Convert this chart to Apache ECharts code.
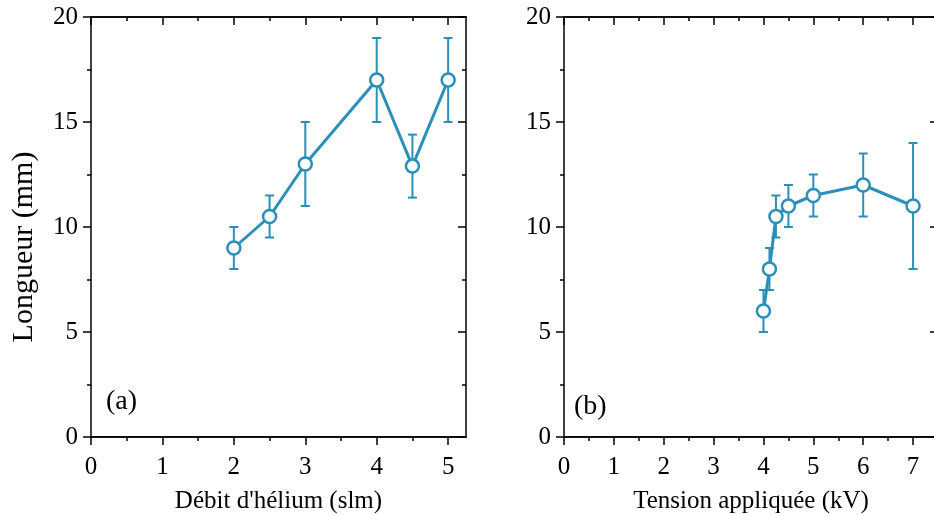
<!DOCTYPE html>
<html><head><meta charset="utf-8">
<script src="https://cdn.jsdelivr.net/npm/echarts@6/dist/echarts.min.js"></script>
<style>html,body{margin:0;padding:0;background:#fff}#c{width:934px;height:515px}</style>
</head><body><div id="c"></div>
<script>
// ---- data ----
const flowX = [2, 2.5, 3, 4, 4.5, 5];            // Débit d'hélium (slm)
const flowLen = [9, 10.5, 13, 17, 12.9, 17];     // Longueur (mm)
const flowErr = [1, 1, 2, 2, 1.5, 2];
const voltX = [4, 4.12, 4.25, 4.5, 5, 6, 7];     // Tension appliquée (kV)
const voltLen = [6, 8, 10.5, 11, 11.5, 12, 11];  // Longueur (mm)
const voltErr = [1, 1, 1, 1, 1, 1.5, 3];
const flowMajor = [0, 1, 2, 3, 4, 5];
const flowMinor = [0.5, 1.5, 2.5, 3.5, 4.5];
const voltMajor = [0, 1, 2, 3, 4, 5, 6, 7];
const voltMinor = [0.5, 1.5, 2.5, 3.5, 4.5, 5.5, 6.5];
const panelLabels = ['(a)', '(b)'];
const xTitles = ["Débit d'hélium (slm)", 'Tension appliquée (kV)'];
const yTitle = 'Longueur (mm)';

const C = '#2a8fba';
const FONT = '"Liberation Serif","Times New Roman",serif';
const chart = echarts.init(document.getElementById('c'));

function xAxes(grid, max, major, minor, title) {
  const base = { type: 'value', gridIndex: grid, min: 0, max: max, interval: 1,
    splitLine: { show: false }, axisLine: { onZero: false, lineStyle: { color: '#000', width: 1.5 } } };
  return [
    Object.assign({}, base, { position: 'bottom', name: title, nameLocation: 'middle', nameGap: 52,
      nameTextStyle: { fontFamily: FONT, fontSize: 25, color: '#000' },
      axisTick: { show: true, inside: false, length: 8, lineStyle: { width: 1.5, color: '#000' }, customValues: major },
      axisLabel: { show: true, margin: 18, fontFamily: FONT, fontSize: 25, color: '#000', customValues: major } }),
    Object.assign({}, base, { position: 'bottom',
      axisTick: { show: true, inside: false, length: 4, lineStyle: { width: 1.5, color: '#000' }, customValues: minor },
      axisLabel: { show: false } }),
    Object.assign({}, base, { position: 'top',
      axisTick: { show: true, inside: true, length: 8, lineStyle: { width: 1.5, color: '#000' }, customValues: major },
      axisLabel: { show: false } }),
    Object.assign({}, base, { position: 'top',
      axisTick: { show: true, inside: true, length: 4, lineStyle: { width: 1.5, color: '#000' }, customValues: minor },
      axisLabel: { show: false } })
  ];
}
function yAxes(grid, withTitle) {
  const base = { type: 'value', gridIndex: grid, min: 0, max: 20, interval: 5,
    splitLine: { show: false }, axisLine: { show: true, onZero: false, lineStyle: { color: '#000', width: 1.5 } } };
  return [
    Object.assign({}, base, { position: 'left',
      name: withTitle ? yTitle : '', nameLocation: 'middle', nameGap: 52,
      nameTextStyle: { fontFamily: FONT, fontSize: 30, color: '#000', padding: [0, 40, 0, 0] },
      axisTick: { show: true, inside: false, length: 8, lineStyle: { width: 1.5, color: '#000' } },
      minorTick: { show: true, splitNumber: 2, length: 4, lineStyle: { width: 1.5, color: '#000' } },
      axisLabel: { show: true, margin: 13, fontFamily: FONT, fontSize: 25, color: '#000' } }),
    Object.assign({}, base, { position: 'right',
      axisTick: { show: true, inside: true, length: 8, lineStyle: { width: 1.5, color: '#000' } },
      minorTick: { show: true, splitNumber: 2, length: 4, lineStyle: { width: 1.5, color: '#000' } },
      axisLabel: { show: false } })
  ];
}

function errItem(params, api) {
  const x = api.value(0), lo = api.value(1), hi = api.value(2);
  const a = api.coord([x, lo]), b = api.coord([x, hi]);
  const w = 4.5, st = { stroke: C, lineWidth: 2 };
  return { type: 'group', children: [
    { type: 'line', shape: { x1: a[0], y1: a[1], x2: b[0], y2: b[1] }, style: st },
    { type: 'line', shape: { x1: a[0] - w, y1: a[1], x2: a[0] + w, y2: a[1] }, style: st },
    { type: 'line', shape: { x1: b[0] - w, y1: b[1], x2: b[0] + w, y2: b[1] }, style: st }
  ] };
}
function pts(xs, ys) { return xs.map((x, i) => [x, ys[i]]); }
function errs(xs, ys, es) { return xs.map((x, i) => [x, ys[i] - es[i], ys[i] + es[i]]); }

function lineSeries(xi, yi, data) {
  return { type: 'line', xAxisIndex: xi, yAxisIndex: yi, data: data, z: 5,
    symbol: 'circle', symbolSize: 13, showSymbol: true, animation: false,
    lineStyle: { color: C, width: 3 },
    itemStyle: { color: '#fff', borderColor: C, borderWidth: 2.5 } };
}
function errSeries(xi, yi, data) {
  return { type: 'custom', xAxisIndex: xi, yAxisIndex: yi, data: data, z: 3, animation: false,
    encode: { x: 0, y: [1, 2] }, renderItem: errItem };
}

const option = {
  animation: false,
  grid: [
    { left: 91, top: 17, width: 375, height: 420, outerBoundsMode: 'none', containLabel: false },
    { left: 564, top: 17, width: 374, height: 420, outerBoundsMode: 'none', containLabel: false }
  ],
  xAxis: [].concat(xAxes(0, 5.25, flowMajor, flowMinor, xTitles[0]), xAxes(1, 7.5, voltMajor, voltMinor, xTitles[1])),
  yAxis: [].concat(yAxes(0, true), yAxes(1, false)),
  series: [
    errSeries(0, 0, errs(flowX, flowLen, flowErr)),
    lineSeries(0, 0, pts(flowX, flowLen)),
    errSeries(4, 2, errs(voltX, voltLen, voltErr)),
    lineSeries(4, 2, pts(voltX, voltLen))
  ],
  graphic: [
    { type: 'text', left: 106, top: 388, style: { text: panelLabels[0], font: '28px ' + FONT, fill: '#000' } },
    { type: 'text', left: 574, top: 393, style: { text: panelLabels[1], font: '28px ' + FONT, fill: '#000' } }
  ]
};
chart.setOption(option);
</script></body></html>
